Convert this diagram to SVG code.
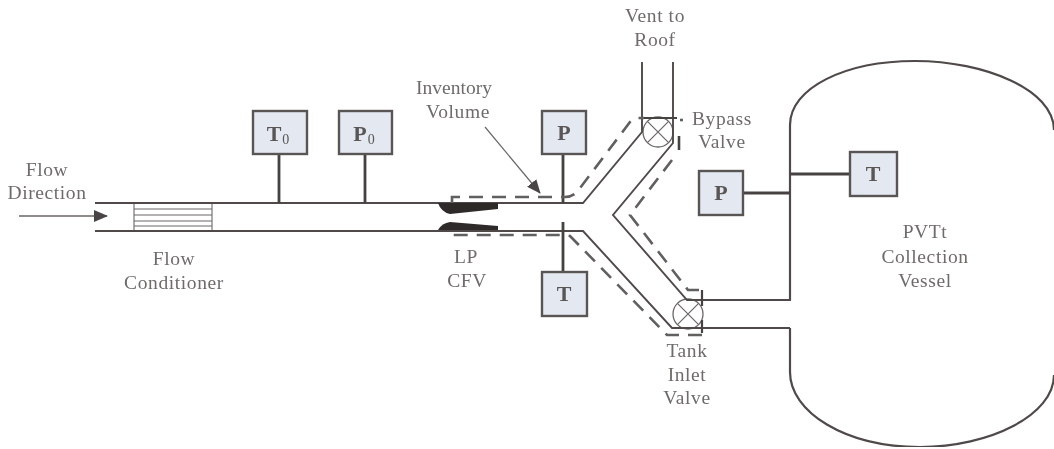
<svg xmlns="http://www.w3.org/2000/svg" width="1054" height="449" viewBox="0 0 1054 449">
<style>
text{font-family:"Liberation Serif","Times New Roman",serif;font-size:19.500px;fill:#6f6b6b;text-anchor:middle;letter-spacing:.6px}
.box{fill:#e3e8f1;stroke:#5a5454;stroke-width:2.400}
.b{font-weight:bold;font-size:22px;fill:#5a5656;letter-spacing:0}
.s{font-size:14px;font-weight:normal}
.pipe{fill:none;stroke:#4f4949;stroke-width:1.900}
.stem{fill:none;stroke:#474242;stroke-width:2.800}
.thin{fill:none;stroke:#6b6666;stroke-width:1.200}
.dash{fill:none;stroke:#625e5e;stroke-width:2.600;stroke-dasharray:14 9}
.valve{fill:#fff;stroke:#6b6666;stroke-width:1.300}
.noz{fill:#2f2b2b}
</style>
<defs>
<marker id="ah" markerWidth="14" markerHeight="12" refX="13" refY="6" orient="auto" markerUnits="userSpaceOnUse"><path d="M0 0L14 6L0 12Z" fill="#4a4545"/></marker>
<filter id="soft" x="0" y="0" width="100%" height="100%"><feGaussianBlur stdDeviation="0.45"/></filter>
</defs>
<rect width="1054" height="449" fill="#fff"/>
<g filter="url(#soft)">
<g id="flow-conditioner">
<rect x="134" y="203" width="78" height="28" fill="#fff" stroke="#5e5959" stroke-width="1"/>
<path class="thin" d="M134 209H212M134 215H212M134 221H212M134 226H212"/>
</g>
<g id="bypass-valve"><circle class="valve" cx="658" cy="132" r="15"/><path class="thin" d="M647.400 121.400L668.600 142.600M668.600 121.400L647.400 142.600"/></g>
<g id="tank-valve"><circle class="valve" cx="688" cy="314" r="15"/><path class="thin" d="M677.400 303.400L698.600 324.600M698.600 303.400L677.400 324.600"/></g>
<g id="connectors">
<path class="pipe" d="M95 203H583L642 132V62M673 62V143L613 215L687 300H790V125"/>
<path class="pipe" d="M95 231H583L672 328H790"/>
<path class="pipe" style="stroke-width:2.200" d="M790 300V125C790 88 845 61 915 61C985 61 1054 90 1054 130M790 328V372C790 412 845 447 920 447C990 447 1054 415 1054 375"/>
<path class="stem" d="M279 154V203M365 154V203M563 154V203M563 222V272M743 193H790M790 174H850"/>
<path class="thin" style="stroke-width:1.400" d="M19 216H107" marker-end="url(#ah)"/>
<path class="thin" d="M485 127L540 193" marker-end="url(#ah)"/>
<path class="dash" d="M452 203V197H565Q572 197 577 192L630 122L635 118H644"/>
<path class="stem" style="stroke-width:2" d="M644 118H677"/>
<path class="dash" style="stroke-dasharray:3 9" d="M680 120H684"/>
<path class="stem" style="stroke-width:2.600" d="M679 136V150"/>
<path class="dash" d="M672 160L630 215L688 290H702"/>
<path class="stem" style="stroke-width:2.200" d="M702 290V306M702 320V333"/>
<path class="dash" d="M702 335H667L570 236L565 235H453V230"/>
</g>
<g id="nozzle">
<path class="noz" d="M438 203H498V209L450 214Q441 212 438 203Z"/>
<path class="noz" d="M438 230Q442 223 450 222L498 226V230Z"/>
</g>
<g id="t0"><rect class="box" x="253" y="111" width="54" height="43"/><text class="b" x="278" y="141">T<tspan class="s" dy="3" dx="1">0</tspan></text></g>
<g id="p0"><rect class="box" x="339" y="111" width="53" height="43"/><text class="b" x="364" y="141">P<tspan class="s" dy="3" dx="1">0</tspan></text></g>
<g id="p1"><rect class="box" x="542" y="111" width="44" height="43"/><text class="b" x="564" y="140">P</text></g>
<g id="t1"><rect class="box" x="542" y="272" width="45" height="44"/><text class="b" x="564" y="301">T</text></g>
<g id="p2"><rect class="box" x="699" y="171" width="44" height="44"/><text class="b" x="721" y="200">P</text></g>
<g id="t2"><rect class="box" x="850" y="152" width="47" height="44"/><text class="b" x="873" y="181">T</text></g>
<g id="labels">
<text x="47" y="176">Flow</text><text x="47" y="199">Direction</text>
<text x="174" y="265">Flow</text><text x="174" y="289">Conditioner</text>
<text x="454" y="94" style="letter-spacing:0">Inventory</text><text x="458" y="118">Volume</text>
<text x="466" y="263">LP</text><text x="467" y="287">CFV</text>
<text x="655" y="22">Vent to</text><text x="655" y="46">Roof</text>
<text x="722" y="125">Bypass</text><text x="722" y="148">Valve</text>
<text x="925" y="238">PVTt</text><text x="925" y="263">Collection</text><text x="925" y="287">Vessel</text>
<text x="687" y="357">Tank</text><text x="687" y="381">Inlet</text><text x="687" y="404">Valve</text>
</g>
</g>
</svg>
